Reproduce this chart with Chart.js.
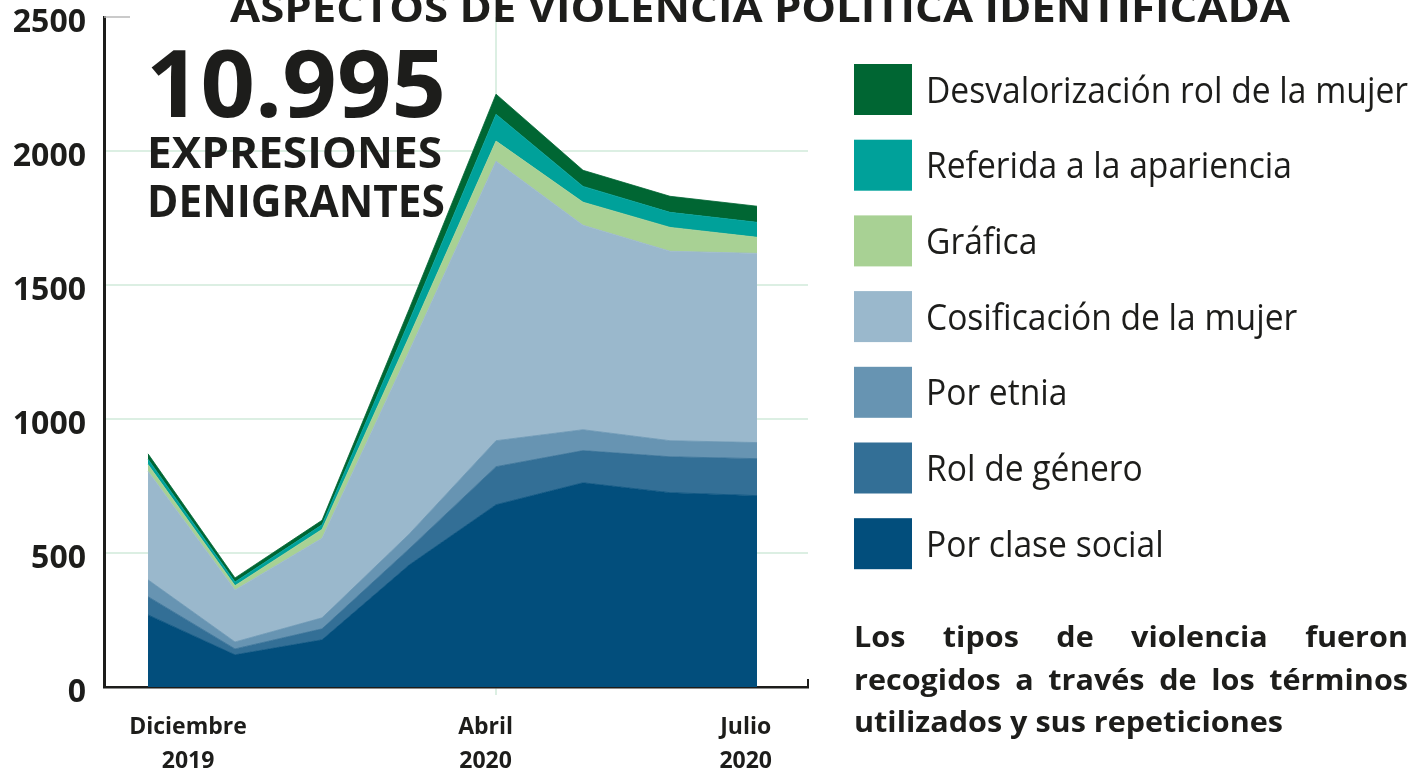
<!DOCTYPE html>
<html><head><meta charset="utf-8">
<script src="https://cdn.jsdelivr.net/npm/chart.js@4.4.0/dist/chart.umd.min.js"></script>
<style>html,body{margin:0;padding:0;background:#fff;overflow:hidden}#wrap{width:1425px;height:773px;position:relative}</style>
</head><body><div id="wrap"><canvas id="c" width="1425" height="773"></canvas></div>
<script>
// ---- data ----
const months = ['Dic 2019','Ene 2020','Feb 2020','Mar 2020','Abr 2020','May 2020','Jun 2020','Jul 2020'];
const porClaseSocial     = [269, 120, 176, 455, 680, 762, 725, 714];
const rolDeGenero        = [ 68,  22,  41,  60, 142, 120, 134, 138];
const porEtnia           = [ 63,  26,  41,  55,  97,  78,  60,  60];
const cosificacion       = [405, 194, 297, 682,1043, 763, 707, 706];
const grafica            = [ 25,  16,  33,  54,  75,  86,  89,  60];
const referidaApariencia = [ 20,  14,  17,  58, 100,  59,  56,  56];
const desvalorizacion    = [ 20,  15,  17,  45,  75,  60,  60,  60];
const seriesNames = ['Por clase social','Rol de género','Por etnia','Cosificación de la mujer','Gráfica','Referida a la apariencia','Desvalorización rol de la mujer'];
const yTickValues = [0, 500, 1000, 1500, 2000, 2500];
const xTickLabels = [['Diciembre','2019'], ['Abril','2020'], ['Julio','2020']];
const titleText = 'ASPECTOS DE VIOLENCIA POLÍTICA IDENTIFICADA';
const totalText = '10.995';
const totalSub = ['EXPRESIONES', 'DENIGRANTES'];
const noteLines = ['Los tipos de violencia fueron', 'recogidos a través de los términos', 'utilizados y sus repeticiones'];

// ---- styles ----
const colors = ['#024e7c','#336f96','#6794b2','#9ab8cc','#a8d194','#00a19a','#006633'];
const seriesValues = [porClaseSocial, rolDeGenero, porEtnia, cosificacion, grafica, referidaApariencia, desvalorizacion];
const INK = '#1d1d1b';
const GRID = '#dcefe3';
const FONT = "'Open Sans', 'Noto Sans', sans-serif";
const xLabelPos = [0.46, 3.88, 6.87];

const datasets = seriesValues.map((arr, k) => ({
  label: seriesNames[k],
  data: arr.map((v, i) => ({x: i, y: v})),
  backgroundColor: colors[k],
  borderColor: colors[k],
  borderWidth: 0.8,
  pointRadius: 0,
  fill: k === 0 ? 'origin' : '-1',
  tension: 0,
  xAxisID: 'x', yAxisID: 'y'
}));

function drawFit(ctx, text, x, y, font, width, align) {
  ctx.font = font;
  const w = ctx.measureText(text).width;
  const k = width ? width / w : 1;
  ctx.save();
  ctx.translate(x, y);
  ctx.scale(k, 1);
  ctx.textAlign = align || 'left';
  ctx.fillText(text, 0, 0);
  ctx.restore();
}

function noPad(s) { s.paddingTop = 0; s.paddingBottom = 0; s.paddingLeft = 0; s.paddingRight = 0; }

const decor = {
  id: 'decor',
  afterDraw(chart) {
    const ctx = chart.ctx;
    ctx.save();
    ctx.fillStyle = INK;
    ctx.textBaseline = 'alphabetic';
    // title (cut at top like the reference)
    drawFit(ctx, titleText, 230, 22, `bold 40px ${FONT}`, 1060);
    // big total
    drawFit(ctx, totalText, 146, 117, `bold 94px ${FONT}`, 300);
    drawFit(ctx, totalSub[0], 147, 168, `bold 43px ${FONT}`, 295);
    drawFit(ctx, totalSub[1], 147, 217, `bold 44px ${FONT}`, 298);
    // top short tick and right end tick
    ctx.strokeStyle = '#b9b9b9'; ctx.lineWidth = 1.5;
    ctx.beginPath(); ctx.moveTo(104, 17); ctx.lineTo(130, 17); ctx.stroke();
    ctx.strokeStyle = INK; ctx.lineWidth = 2;
    ctx.beginPath(); ctx.moveTo(808, 679); ctx.lineTo(808, 688); ctx.stroke();
    // legend (top to bottom = reversed stacking order)
    const ds = chart.data.datasets.slice().reverse();
    const lf = `37px ${FONT}`;
    ctx.font = lf;
    const longest = Math.max(...ds.map(d => ctx.measureText(d.label).width));
    const k = 482 / longest;
    ds.forEach((d, i) => {
      const top = 64 + i * 75.7;
      ctx.fillStyle = d.backgroundColor;
      ctx.fillRect(854, top, 58, 51);
      ctx.fillStyle = INK;
      ctx.textBaseline = 'middle';
      ctx.font = lf;
      ctx.save(); ctx.translate(926, top + 28); ctx.scale(k, 1); ctx.textAlign = 'left';
      ctx.fillText(d.label, 0, 0); ctx.restore();
    });
    // note (justified)
    ctx.textBaseline = 'alphabetic';
    ctx.fillStyle = INK;
    const nf = `bold 29px ${FONT}`;
    ctx.font = nf;
    const nk = 429 / ctx.measureText(noteLines[2]).width;
    const baselines = [647, 690, 732];
    noteLines.forEach((line, li) => {
      const words = line.split(' ');
      const ws = words.map(w => ctx.measureText(w).width * nk);
      const total = ws.reduce((a, b) => a + b, 0);
      const justify = li < 2;
      const gap = justify ? (1408 - 854 - total) / (words.length - 1) : ctx.measureText(' ').width * nk;
      let x = 854;
      words.forEach((w, wi) => {
        ctx.save(); ctx.translate(x, baselines[li]); ctx.scale(nk, 1); ctx.fillText(w, 0, 0); ctx.restore();
        x += ws[wi] + gap;
      });
    });
    ctx.restore();
  }
};

new Chart(document.getElementById('c'), {
  type: 'line',
  data: { datasets },
  plugins: [decor],
  options: {
    responsive: false,
    animation: false,
    layout: { padding: { top: 17, right: 617, bottom: 0, left: 0 } },
    plugins: { legend: { display: false }, tooltip: { enabled: false } },
    scales: {
      x: {
        type: 'linear', position: 'bottom', weight: 0,
        min: -0.506, max: 7.586,
        afterBuildTicks: s => { s.ticks = [{ value: 4 }]; },
        grid: { color: GRID, lineWidth: 2, drawTicks: true, tickLength: 8, tickColor: GRID },
        border: { display: true, color: INK, width: 2.5 },
        ticks: { display: false },
        afterFit: s => { s.height = 8; noPad(s); }
      },
      xl: {
        type: 'linear', position: 'bottom', weight: 1,
        min: -0.506, max: 7.586,
        afterBuildTicks: s => { s.ticks = xLabelPos.map(v => ({ value: v })); },
        grid: { display: false, drawTicks: false },
        border: { display: false },
        ticks: {
          autoSkip: false, maxRotation: 0, padding: 16, color: INK,
          font: { family: FONT, weight: 'bold', size: 23, lineHeight: 1.45 },
          callback: (v, i) => xTickLabels[i]
        },
        afterFit: s => { s.height = 78; noPad(s); }
      },
      y: {
        stacked: true, min: 0, max: 2500,
        afterBuildTicks: s => { s.ticks = yTickValues.map(v => ({ value: v })); },
        grid: { color: c => (c.tick && (c.tick.value === 0 || c.tick.value === 2500)) ? 'rgba(0,0,0,0)' : GRID, lineWidth: 2, drawTicks: false },
        border: { display: true, color: INK, width: 3 },
        ticks: { color: INK, padding: 18, labelOffset: 6, font: { family: FONT, weight: 'bold', size: 32 },
          callback: v => String(v) },
        afterFit: s => { s.width = 104; noPad(s); }
      }
    }
  }
});
</script>
</body></html>
